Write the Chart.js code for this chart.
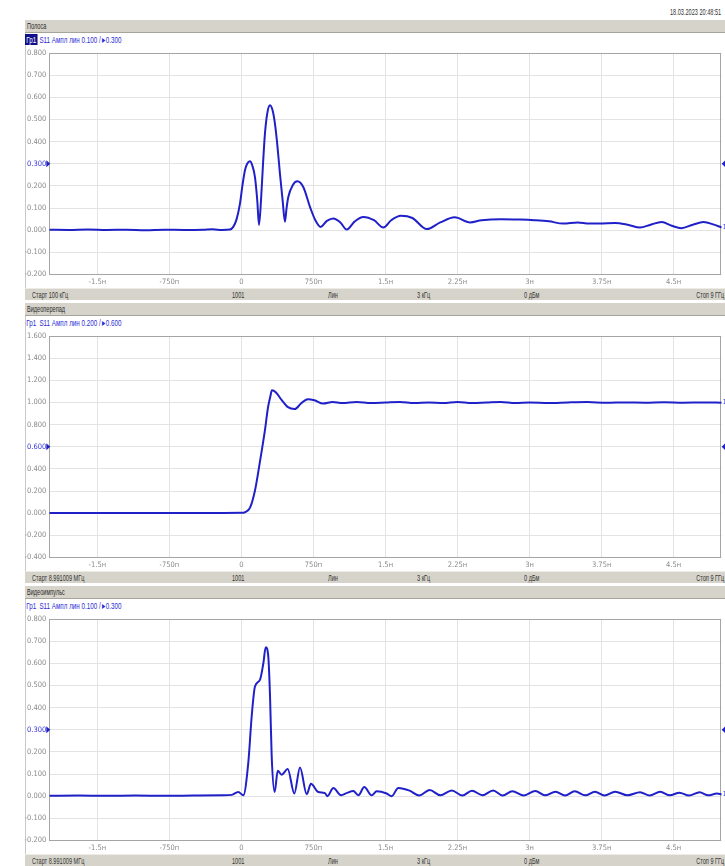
<!DOCTYPE html>
<html>
<head>
<meta charset="utf-8">
<script src="https://cdn.jsdelivr.net/npm/chart.js@4/dist/chart.umd.min.js"></script>
<style>
  html, body { margin: 0; padding: 0; background: #fff; }
  body { width: 725px; height: 866px; overflow: hidden; position: relative; font-family: "Liberation Sans", Arial, sans-serif; }
  .frame { position: absolute; left: 25px; width: 700px; border-left: 1px solid #c8c8c8; box-sizing: border-box; }
  .bar { position: absolute; left: 25px; width: 700px; height: 13px; background: #d6d3ca; box-sizing: border-box; border-bottom: 1px solid #a6a39b; overflow: hidden; }
  .txt { position: absolute; white-space: nowrap; font-size: 9px; line-height: 12px; transform-origin: left center; }
  .txt.r { transform-origin: right center; }
  .legend { position: absolute; left: 25px; height: 11px; white-space: nowrap; font-size: 9.5px; line-height: 11px; color: #2c2cd6; transform: scaleX(0.66); transform-origin: left center; }
  .legend .tr { display: inline-block; padding: 0 2px; }
  .legend .tr.active { background: #10108a; color: #fff; }
  .wrap { position: absolute; left: 25px; width: 700px; height: 255px; }
  #stamp { position: absolute; top: 6px; left: 670px; font-size: 9px; line-height: 12px; color: #333; white-space: nowrap; transform: scaleX(0.62); transform-origin: left center; }
</style>
</head>
<body>
<div id="stamp">18.03.2023 20:48:51</div>
<div id="root"></div>
<script>
// Time axis (ns) shared by all three traces
const xMin = -2, xMax = 5;
const xTickValues = [-1.5, -0.75, 0, 0.75, 1.5, 2.25, 3, 3.75, 4.5];
const xTickLabels = ['-1.5н', '-750п', '0', '750п', '1.5н', '2.25н', '3н', '3.75н', '4.5н'];

// Per-panel captions and scale settings
const panelTitles = ['Полоса', 'Видеоперепад', 'Видеоимпульс'];
const scaleLabels = ['0.100', '0.200', '0.100'];
const refLabels = ['0.300', '0.600', '0.300'];
const refLevels = [0.3, 0.6, 0.3];
const startLabels = ['Старт 100 кГц', 'Старт 8.991009 МГц', 'Старт 8.991009 МГц'];
const statusFields = ['1001', 'Лин', '3 кГц', '0 дБм', 'Стоп 9 ГГц'];

const yTicksBand  = [-0.2, -0.1, 0, 0.1, 0.2, 0.3, 0.4, 0.5, 0.6, 0.7, 0.8];
const yTicksStep  = [-0.4, -0.2, 0, 0.2, 0.4, 0.6, 0.8, 1.0, 1.2, 1.4, 1.6];
const yTicksPulse = [-0.2, -0.1, 0, 0.1, 0.2, 0.3, 0.4, 0.5, 0.6, 0.7, 0.8];

// S11 magnitude, band-pass time domain
const tBand = [-2.0, -1.8, -1.6, -1.4, -1.2, -1.0, -0.8, -0.6, -0.4, -0.3, -0.2, -0.12, -0.085, -0.05, -0.015, 0.01, 0.037, 0.06, 0.089, 0.115, 0.141, 0.165, 0.183, 0.204, 0.225, 0.245, 0.27, 0.298, 0.325, 0.349, 0.375, 0.401, 0.43, 0.453, 0.47, 0.488, 0.534, 0.582, 0.644, 0.714, 0.77, 0.825, 0.89, 0.957, 1.03, 1.096, 1.18, 1.269, 1.38, 1.477, 1.56, 1.66, 1.78, 1.93, 2.07, 2.22, 2.38, 2.5, 2.7, 2.9, 3.05, 3.2, 3.35, 3.5, 3.62, 3.73, 3.89, 4.02, 4.15, 4.26, 4.375, 4.48, 4.58, 4.7, 4.81, 4.92, 5.0];
const s11Band = [0.002, 0.001, 0.003, 0.001, 0.002, 0.000, 0.002, 0.001, 0.002, 0.004, 0.001, 0.003, 0.015, 0.05, 0.120, 0.2, 0.271, 0.30, 0.311, 0.29, 0.240, 0.135, 0.023, 0.135, 0.30, 0.436, 0.53, 0.564, 0.54, 0.481, 0.38, 0.256, 0.13, 0.038, 0.10, 0.150, 0.203, 0.221, 0.195, 0.105, 0.045, 0.015, 0.042, 0.053, 0.035, 0.003, 0.04, 0.060, 0.045, 0.012, 0.045, 0.065, 0.055, 0.005, 0.035, 0.058, 0.035, 0.045, 0.05, 0.048, 0.045, 0.04, 0.03, 0.035, 0.03, 0.030, 0.033, 0.025, 0.012, 0.025, 0.037, 0.02, 0.009, 0.025, 0.037, 0.025, 0.012];

// S11 magnitude, low-pass step response
const tStep = [-2.0, -1.7, -1.4, -1.1, -0.8, -0.5, -0.2, 0.0, 0.04, 0.09, 0.14, 0.19, 0.245, 0.276, 0.30, 0.318, 0.36, 0.42, 0.48, 0.556, 0.62, 0.69, 0.76, 0.85, 0.95, 1.05, 1.2, 1.35, 1.5, 1.65, 1.8, 1.95, 2.1, 2.25, 2.4, 2.55, 2.7, 2.85, 3.0, 3.2, 3.4, 3.6, 3.8, 4.0, 4.2, 4.4, 4.6, 4.8, 5.0];
const s11Step = [0.002, 0.001, 0.002, 0.001, 0.002, 0.001, 0.002, 0.003, 0.01, 0.05, 0.2, 0.45, 0.75, 0.95, 1.05, 1.11, 1.09, 1.02, 0.96, 0.94, 0.99, 1.03, 1.02, 0.99, 1.005, 0.995, 1.005, 0.995, 1.0, 1.005, 0.995, 1.0, 0.995, 1.005, 0.995, 1.0, 1.005, 0.995, 1.0, 0.995, 1.0, 1.003, 0.997, 1.0, 0.998, 1.002, 0.998, 1.0, 0.998];

// S11 magnitude, low-pass impulse response
const tPulse = [-2.0, -1.7, -1.4, -1.1, -0.8, -0.5, -0.2, -0.1, -0.033, 0.02, 0.072, 0.107, 0.141, 0.193, 0.228, 0.253, 0.28, 0.298, 0.315, 0.346, 0.378, 0.419, 0.482, 0.551, 0.61, 0.68, 0.724, 0.80, 0.87, 0.894, 0.957, 1.037, 1.1, 1.165, 1.217, 1.279, 1.356, 1.408, 1.512, 1.564, 1.633, 1.75, 1.85, 1.96, 2.07, 2.19, 2.3, 2.4, 2.51, 2.62, 2.72, 2.82, 2.94, 3.06, 3.16, 3.27, 3.37, 3.47, 3.58, 3.68, 3.78, 3.89, 4.02, 4.15, 4.25, 4.36, 4.46, 4.56, 4.66, 4.77, 4.86, 4.95, 5.0];
const s11Pulse = [0.002, 0.003, 0.002, 0.003, 0.002, 0.003, 0.004, 0.006, 0.019, 0.004, 0.153, 0.361, 0.495, 0.525, 0.599, 0.673, 0.629, 0.450, 0.182, 0.019, 0.115, 0.097, 0.123, 0.012, 0.130, 0.009, 0.056, 0.019, 0.014, 0.0, 0.037, 0.004, 0.015, 0.023, 0.004, 0.041, 0.004, 0.022, 0.012, 0.0, 0.037, 0.025, 0.003, 0.028, 0.004, 0.026, 0.003, 0.025, 0.004, 0.026, 0.003, 0.022, 0.003, 0.024, 0.004, 0.02, 0.003, 0.022, 0.004, 0.02, 0.003, 0.02, 0.004, 0.018, 0.003, 0.02, 0.004, 0.016, 0.003, 0.018, 0.004, 0.012, 0.008];

const series = [
  { t: tBand, v: s11Band, ticks: yTicksBand },
  { t: tStep, v: s11Step, ticks: yTicksStep },
  { t: tPulse, v: s11Pulse, ticks: yTicksPulse }
];

const TRACE = '#2020c8';
const TICK_FONT = { family: '"Liberation Sans Narrow", "DejaVu Sans Condensed", sans-serif', size: 7.5 };

// Plot frame and reference-level / trace markers
const markerPlugin = {
  id: 'vnaMarkers',
  beforeDatasetsDraw(chart) {
    const { ctx, chartArea: a } = chart;
    ctx.save();
    ctx.strokeStyle = '#a5a5a5';
    ctx.lineWidth = 1;
    ctx.strokeRect(Math.round(a.left) + 0.5, Math.round(a.top) + 0.5, Math.round(a.right - a.left) - 1, Math.round(a.bottom - a.top) - 1);
    ctx.restore();
  },
  afterDatasetsDraw(chart, args, opts) {
    const { ctx, chartArea: a } = chart;
    const ys = chart.scales.y;
    const yRef = ys.getPixelForValue(opts.ref);
    ctx.save();
    ctx.fillStyle = TRACE;
    ctx.beginPath();
    ctx.moveTo(a.left - 3, yRef - 3.5);
    ctx.lineTo(a.left + 1, yRef);
    ctx.lineTo(a.left - 3, yRef + 3.5);
    ctx.closePath();
    ctx.fill();
    ctx.beginPath();
    ctx.moveTo(a.right + 4, yRef - 4);
    ctx.lineTo(a.right, yRef);
    ctx.lineTo(a.right + 4, yRef + 4);
    ctx.closePath();
    ctx.fill();
    const pts = chart.data.datasets[0].data;
    const last = pts[pts.length - 1];
    ctx.font = '7px "Liberation Sans Narrow", "DejaVu Sans Condensed", sans-serif';
    ctx.textBaseline = 'middle';
    ctx.fillText('1', a.right + 1, ys.getPixelForValue(last.y));
    ctx.restore();
  }
};

const root = document.getElementById('root');
function el(cls, top, css) {
  const d = document.createElement('div');
  d.className = cls;
  d.style.top = top + 'px';
  if (css) Object.assign(d.style, css);
  root.appendChild(d);
  return d;
}
function addText(parent, text, left, scale, color, right) {
  const s = document.createElement('div');
  s.className = 'txt' + (right ? ' r' : '');
  s.textContent = text;
  s.style.color = color;
  s.style.top = '0px';
  if (right) s.style.right = left + 'px'; else s.style.left = left + 'px';
  s.style.transform = 'scaleX(' + scale + ')';
  parent.appendChild(s);
}

const statusOffsets = [207, 303, 392, 499];

series.forEach((s, i) => {
  const T = 20 + 283 * i;
  el('frame', T, { height: '280px' });

  const title = el('bar', T);
  addText(title, panelTitles[i], 2, 0.62, '#2a2a2a');

  const lg = el('legend', T + 14);
  lg.innerHTML = '<span class="tr' + (i === 0 ? ' active' : '') + '">Гр1</span> S11 Ампл лин ' + scaleLabels[i] + ' / ▸' + refLabels[i];

  const status = el('bar', T + 268, { height: '12px', borderBottom: 'none', borderTop: '1px solid #ecebe6' });
  addText(status, startLabels[i], 7, 0.62, '#333');
  statusFields.slice(0, 4).forEach((f, k) => addText(status, f, statusOffsets[k], 0.62, '#333'));
  addText(status, statusFields[4], 1, 0.62, '#333', true);

  const wrap = el('wrap', T + 13);
  const cv = document.createElement('canvas');
  cv.width = 700; cv.height = 255;
  wrap.appendChild(cv);

  const data = s.t.map((t, k) => ({ x: t, y: s.v[k] }));
  const yt = s.ticks;
  new Chart(cv, {
    type: 'line',
    data: { datasets: [{ data, borderColor: TRACE, borderWidth: 2, pointRadius: 0, cubicInterpolationMode: 'monotone', fill: false }] },
    options: {
      responsive: false, animation: false, events: [],
      layout: { padding: { top: 20, right: 3.3, left: 0, bottom: 0 } },
      plugins: { legend: { display: false }, tooltip: { enabled: false }, vnaMarkers: { ref: refLevels[i] } },
      scales: {
        x: {
          type: 'linear', min: xMin, max: xMax,
          afterBuildTicks: sc => { sc.ticks = xTickValues.map(v => ({ value: v })); },
          afterFit: sc => { sc.height = 13.5; },
          grid: { color: '#e3e3e3', drawTicks: false },
          border: { display: false },
          ticks: { padding: 3, maxRotation: 0, autoSkip: false, color: '#8a8a8a', font: TICK_FONT,
                   callback: (v, k) => xTickLabels[k] }
        },
        y: {
          min: yt[0], max: yt[yt.length - 1],
          afterBuildTicks: sc => { sc.ticks = yt.map(v => ({ value: v })); },
          afterFit: sc => { sc.width = 24.3; },
          grid: { color: '#e3e3e3', drawTicks: false },
          border: { display: false },
          ticks: { padding: 3, autoSkip: false, font: TICK_FONT,
                   color: c => Math.abs(c.tick.value - refLevels[i]) < 1e-9 ? '#3434e0' : '#8a8a8a',
                   callback: v => v.toFixed(3) }
        }
      }
    },
    plugins: [markerPlugin]
  });
});
</script>
</body>
</html>
